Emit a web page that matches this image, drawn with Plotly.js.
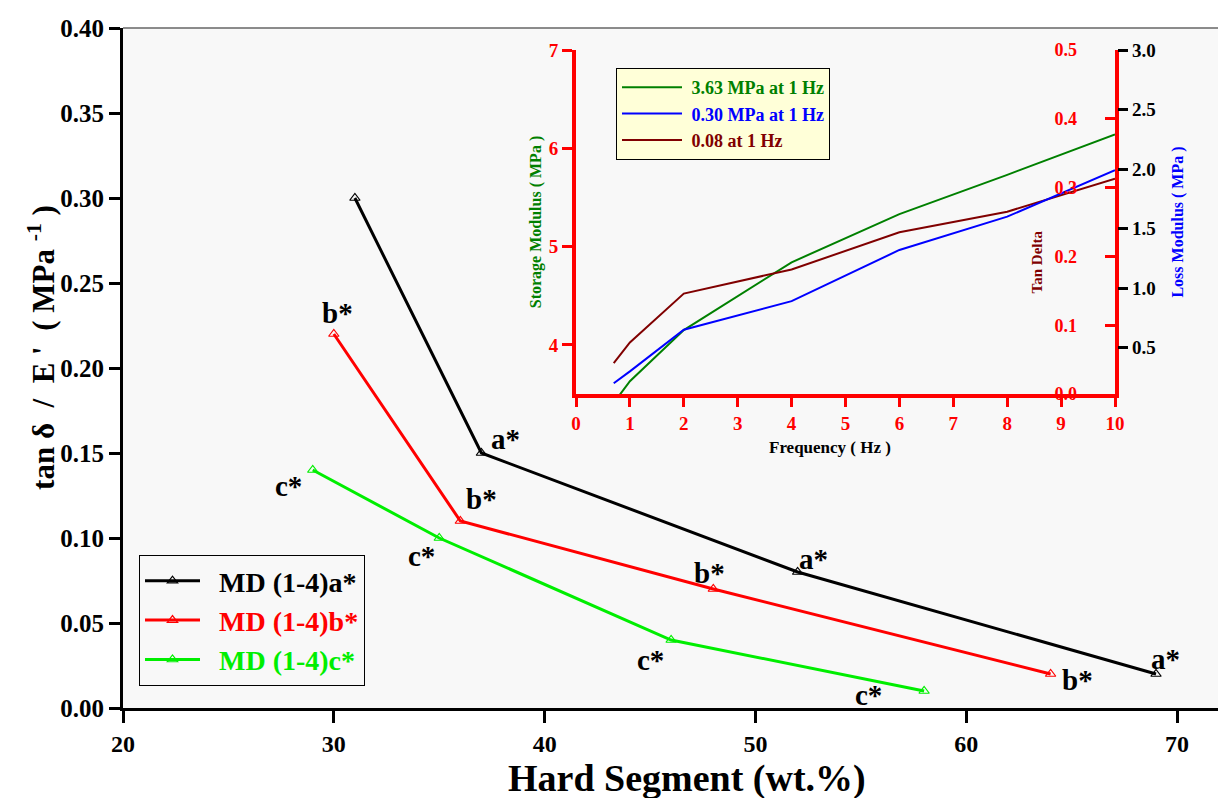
<!DOCTYPE html>
<html>
<head>
<meta charset="utf-8">
<script src="https://cdn.plot.ly/plotly-3.0.1.min.js"></script>
<style>html,body{margin:0;padding:0;background:#fff;}#chart{width:1218px;height:798px;}</style>
</head>
<body>
<div id="chart"></div>
<script>
// ---------- main chart data ----------
const hardA = [31, 37, 52, 69];
const tanA  = [0.30, 0.15, 0.08, 0.02];
const hardB = [30, 36, 48, 64];
const tanB  = [0.22, 0.11, 0.07, 0.02];
const hardC = [29, 35, 46, 58];
const tanC  = [0.14, 0.10, 0.04, 0.01];
const seriesNames = ['MD (1-4)a*', 'MD (1-4)b*', 'MD (1-4)c*'];
const pointLabels = ['a*', 'b*', 'c*'];
const xTicks = [20, 30, 40, 50, 60, 70];
const yTicks = [0, 0.05, 0.10, 0.15, 0.20, 0.25, 0.30, 0.35, 0.40];

// ---------- inset data ----------
const freq      = [0.7, 1, 2, 4, 6, 8, 10];
const storage   = [3.41, 3.63, 4.15, 4.84, 5.33, 5.73, 6.14];
const lossMod   = [0.20, 0.30, 0.65, 0.89, 1.32, 1.60, 1.99];
const tanDelta  = [0.045, 0.075, 0.146, 0.181, 0.235, 0.265, 0.313];
const insetNames = ['3.63 MPa at 1 Hz', '0.30 MPa at 1 Hz', '0.08 at 1 Hz'];
const tanTicks  = [0, 0.1, 0.2, 0.3, 0.4, 0.5];
const lossTicks = [0.5, 1.0, 1.5, 2.0, 2.5, 3.0];
const storTicks = [4, 5, 6, 7];

// ---------- styles ----------
const F = 'Liberation Serif, Times New Roman, serif';
const mainColors = ['#000000', '#ff0000', '#00ee00'];
const insetColors = ['#008000', '#0000ff', '#800000'];
const RED = '#ff0000';
const NB = '\u00a0';
// label placement (pixel shifts) per series: [pointIndex, xshift, yshift]
const labelPlace = [
  [[1, 24, 14], [2, 16, 13], [3, 9, 15]],
  [[0, 4, 21], [1, 21, 22], [2, -4, 16], [3, 27, -6]],
  [[0, -24, -16], [1, -18, -18], [2, -21, -20], [3, -56, -4]]
];

const mainX = [hardA, hardB, hardC];
const mainY = [tanA, tanB, tanC];

const traces = [];
for (let i = 0; i < 3; i++) {
  traces.push({
    x: mainX[i], y: mainY[i], type: 'scatter', mode: 'lines+markers',
    name: NB + NB + '<span style="color:' + mainColors[i] + '">' + seriesNames[i] + '</span>',
    line: {color: mainColors[i], width: 3},
    marker: {symbol: 'triangle-up-open', size: 9, color: mainColors[i], line: {width: 1.2}},
    legend: 'legend', legendgroup: 'm' + i, xaxis: 'x', yaxis: 'y'
  });
}
const insetY = [storage, lossMod, tanDelta];
const insetAxes = ['y2', 'y4', 'y3'];
for (let i = 0; i < 3; i++) {
  traces.push({
    x: freq, y: insetY[i], type: 'scatter', mode: 'lines',
    name: NB + '<span style="color:' + insetColors[i] + '">' + insetNames[i] + '</span>',
    line: {color: insetColors[i], width: 2},
    legend: 'legend2', legendgroup: 'i' + i, xaxis: 'x2', yaxis: insetAxes[i]
  });
}

const annotations = [];
for (let i = 0; i < 3; i++) {
  labelPlace[i].forEach(p => {
    annotations.push({
      x: mainX[i][p[0]], y: mainY[i][p[0]], xref: 'x', yref: 'y',
      text: pointLabels[i], showarrow: false, xshift: p[1], yshift: p[2],
      font: {family: F, size: 29, color: '#000', weight: 'bold'}
    });
  });
}
// main y title
annotations.push({
  xref: 'paper', yref: 'paper', x: -0.074, y: 0.531, xanchor: 'center', yanchor: 'middle',
  textangle: -90,
  text: 'tan δ' + NB + ' /' + NB + ' E \'' + NB + ' (' + NB + 'MPa <sup>-1</sup>' + NB + ')', showarrow: false,
  font: {family: F, size: 31, color: '#000', weight: 'bold'}
});
// main x title
annotations.push({
  xref: 'paper', yref: 'paper', x: (687 - 123) / 1095, y: (708 - 778) / 680,
  xanchor: 'center', yanchor: 'middle', showarrow: false,
  text: 'Hard Segment (wt.%)', font: {family: F, size: 38, color: '#000', weight: 'bold'}
});
// inset x title
annotations.push({
  xref: 'x2 domain', yref: 'y2 domain', x: (830 - 576) / 539, y: (394 - 447) / 344,
  xanchor: 'center', yanchor: 'middle', showarrow: false,
  text: 'Frequency ( Hz )', font: {family: F, size: 17, color: '#000', weight: 'bold'}
});
// Tan Delta title (inside inset)
annotations.push({
  xref: 'x2 domain', yref: 'y2 domain', x: 0.855, y: 0.385, xanchor: 'center', yanchor: 'middle',
  textangle: -90, text: 'Tan Delta', showarrow: false,
  font: {family: F, size: 15, color: '#800000', weight: 'bold'}
});

const xd2 = [(576 - 123) / 1095, (1115 - 123) / 1095];
const yd2 = [(708 - 394) / 680, (708 - 50) / 680];

const layout = {
  width: 1218, height: 798,
  margin: {l: 123, r: 0, t: 28, b: 90},
  paper_bgcolor: '#ffffff', plot_bgcolor: '#f8f8f8',
  font: {family: F, color: '#000'},
  xaxis: {
    range: [20, 71.94], tickvals: xTicks, ticktext: xTicks.map(String),
    showgrid: false, zeroline: false, showline: true, linecolor: '#000', linewidth: 3,
    ticks: 'outside', ticklen: 12, tickwidth: 3, tickcolor: '#000',
    tickfont: {family: F, size: 24, weight: 'bold'}
  },
  yaxis: {
    range: [0, 0.40], tickvals: yTicks, ticktext: yTicks.map(v => v.toFixed(2)),
    showgrid: false, zeroline: false, showline: true, linecolor: '#000', linewidth: 3,
    ticks: 'outside', ticklen: 11, tickwidth: 3, tickcolor: '#000',
    tickfont: {family: F, size: 25, weight: 'bold'}
  },
  xaxis2: {
    domain: xd2, anchor: 'y2', range: [0, 10], dtick: 1,
    showgrid: false, zeroline: false, showline: true, linecolor: RED, linewidth: 4,
    ticks: 'outside', ticklen: 9, tickwidth: 3, tickcolor: RED,
    tickfont: {family: F, size: 19, color: RED, weight: 'bold'}
  },
  xaxis3: {
    overlaying: 'x2', anchor: 'y2', side: 'top', range: [0, 10], dtick: 1,
    showgrid: false, zeroline: false, showline: true, linecolor: RED, linewidth: 4,
    ticks: 'inside', ticklen: 9, tickwidth: 3, tickcolor: RED, showticklabels: false
  },
  yaxis2: {
    domain: yd2, anchor: 'x2', range: [3.5, 7], tickvals: storTicks,
    showgrid: false, zeroline: false, showline: true, linecolor: RED, linewidth: 4,
    ticks: 'outside', ticklen: 10, tickwidth: 3, tickcolor: RED,
    tickfont: {family: F, size: 19, color: RED, weight: 'bold'},
    title: {text: 'Storage Modulus ( MPa )', font: {family: F, size: 16, weight: 'bold', color: '#008000'}, standoff: 4}
  },
  yaxis3: {
    overlaying: 'y2', anchor: 'x2', side: 'right', range: [0, 0.5],
    tickvals: tanTicks, ticktext: tanTicks.map(v => v.toFixed(1)),
    showgrid: false, zeroline: false, showline: true, linecolor: RED, linewidth: 4,
    ticks: 'inside', ticklen: 10, tickwidth: 3, tickcolor: RED,
    ticklabelstandoff: -68,
    tickfont: {family: F, size: 18, color: RED, weight: 'bold'}
  },
  yaxis4: {
    overlaying: 'y2', anchor: 'free', position: xd2[1] + 0.002, side: 'right', range: [0.11, 3.0],
    tickvals: lossTicks, ticktext: lossTicks.map(v => v.toFixed(1)),
    showgrid: false, zeroline: false, showline: false,
    ticks: 'outside', ticklen: 10, tickwidth: 3, tickcolor: '#000',
    tickfont: {family: F, size: 19, color: '#000', weight: 'bold'},
    title: {text: 'Loss Modulus ( MPa )', font: {family: F, size: 16, weight: 'bold', color: '#0000ff'}, standoff: 17}
  },
  legend: {
    x: (139 - 123) / 1095, y: (708 - 555) / 680, xanchor: 'left', yanchor: 'top',
    bgcolor: '#f8f8f8', bordercolor: '#000', borderwidth: 1,
    font: {family: F, size: 28, weight: 'bold'}, tracegroupgap: 0, traceorder: 'normal',
    itemwidth: 55
  },
  legend2: {
    x: (616 - 123) / 1095, y: (708 - 68) / 680, xanchor: 'left', yanchor: 'top',
    bgcolor: '#ffffd8', bordercolor: '#000', borderwidth: 1,
    font: {family: F, size: 18, weight: 'bold'}, tracegroupgap: 0, traceorder: 'normal',
    itemwidth: 60
  },
  shapes: [
    {type: 'rect', xref: 'x2 domain', yref: 'y2 domain', x0: 0, x1: 1, y0: 0, y1: 1,
     fillcolor: '#ffffd8', line: {width: 0}, layer: 'below'},
    {type: 'line', xref: 'paper', yref: 'paper', x0: 0, x1: 1, y0: 1, y1: 1,
     line: {color: '#666', width: 1.5}}
  ],
  annotations: annotations,
  showlegend: true
};

Plotly.newPlot('chart', traces, layout, {displayModeBar: false, staticPlot: true});
</script>
</body>
</html>
